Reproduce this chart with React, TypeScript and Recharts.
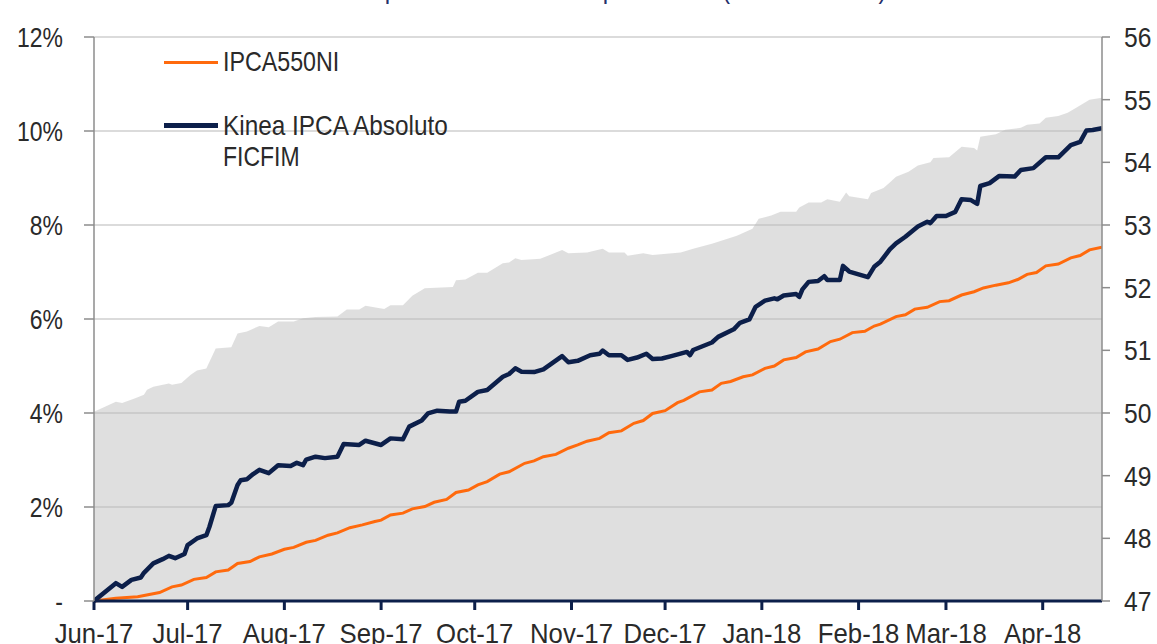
import React from "react";
import {
  ComposedChart,
  Line,
  Area,
  XAxis,
  YAxis,
  CartesianGrid,
  Legend,
} from "recharts";

const FONT = "'Liberation Sans', Arial, sans-serif";
const SX = 0.82; // horizontal squeeze to mimic a narrow face
const NAVY = "#0c1f4a";
const ORANGE = "#ff6a0d";
const TEXT = "#2a2a2a";

const titleText = "Desempenho acumulado e patrimônio (desde o início)";

const monthTicks = [
  "2017-06-01", "2017-07-01", "2017-08-01", "2017-09-01", "2017-10-01", "2017-11-01",
  "2017-12-01", "2018-01-01", "2018-02-01", "2018-03-01", "2018-04-01",
];
const monthLabels = [
  "Jun-17", "Jul-17", "Aug-17", "Sep-17", "Oct-17", "Nov-17",
  "Dec-17", "Jan-18", "Feb-18", "Mar-18", "Apr-18",
];
const startDate = "2017-06-01";
const endDate = "2018-04-20";

const leftTicks = [0, 2, 4, 6, 8, 10, 12];
const rightTicks = [47, 48, 49, 50, 51, 52, 53, 54, 55, 56];

const kineaName = "Kinea IPCA Absoluto FICFIM";
const kineaDates = [
  "2017-06-01", "2017-06-08", "2017-06-10", "2017-06-13", "2017-06-16", "2017-06-17", "2017-06-20",
  "2017-06-23", "2017-06-25", "2017-06-27", "2017-06-30", "2017-07-01", "2017-07-04", "2017-07-07",
  "2017-07-08", "2017-07-10", "2017-07-14", "2017-07-15", "2017-07-17", "2017-07-18", "2017-07-20",
  "2017-07-22", "2017-07-24", "2017-07-27", "2017-07-30", "2017-08-03", "2017-08-05", "2017-08-07",
  "2017-08-08", "2017-08-11", "2017-08-14", "2017-08-18", "2017-08-20", "2017-08-25", "2017-08-27",
  "2017-09-01", "2017-09-04", "2017-09-08", "2017-09-10", "2017-09-14", "2017-09-16", "2017-09-19",
  "2017-09-23", "2017-09-25", "2017-09-26", "2017-09-28", "2017-10-02", "2017-10-05", "2017-10-10",
  "2017-10-12", "2017-10-14", "2017-10-16", "2017-10-20", "2017-10-23", "2017-10-29", "2017-10-31",
  "2017-11-03", "2017-11-07", "2017-11-10", "2017-11-11", "2017-11-13", "2017-11-17", "2017-11-19",
  "2017-11-22", "2017-11-25", "2017-11-27", "2017-11-30", "2017-12-03", "2017-12-08", "2017-12-09",
  "2017-12-10", "2017-12-16", "2017-12-18", "2017-12-23", "2017-12-25", "2017-12-28", "2017-12-30",
  "2018-01-02", "2018-01-05", "2018-01-06", "2018-01-08", "2018-01-12", "2018-01-13", "2018-01-14",
  "2018-01-16", "2018-01-19", "2018-01-21", "2018-01-22", "2018-01-26", "2018-01-27", "2018-01-29",
  "2018-02-04", "2018-02-06", "2018-02-08", "2018-02-11", "2018-02-13", "2018-02-16", "2018-02-20",
  "2018-02-23", "2018-02-24", "2018-02-26", "2018-03-01", "2018-03-04", "2018-03-06", "2018-03-09",
  "2018-03-11", "2018-03-12", "2018-03-15", "2018-03-18", "2018-03-23", "2018-03-25", "2018-03-29",
  "2018-04-02", "2018-04-06", "2018-04-10", "2018-04-13", "2018-04-15", "2018-04-17", "2018-04-20",
];
const kineaValues = [
  0, 0.38, 0.30, 0.45, 0.50, 0.60, 0.80,
  0.89, 0.96, 0.91, 1.00, 1.19, 1.33, 1.40,
  1.58, 2.02, 2.04, 2.09, 2.47, 2.57, 2.59,
  2.70, 2.79, 2.72, 2.89, 2.87, 2.94, 2.89,
  3.01, 3.07, 3.04, 3.07, 3.34, 3.32, 3.41,
  3.32, 3.46, 3.44, 3.71, 3.84, 3.99, 4.05,
  4.03, 4.03, 4.24, 4.26, 4.45, 4.49, 4.77,
  4.83, 4.95, 4.88, 4.87, 4.93, 5.21, 5.08,
  5.11, 5.23, 5.26, 5.33, 5.23, 5.23, 5.13,
  5.18, 5.26, 5.15, 5.16, 5.21, 5.30, 5.23,
  5.34, 5.50, 5.62, 5.78, 5.92, 5.99, 6.26,
  6.39, 6.44, 6.42, 6.50, 6.53, 6.47, 6.63,
  6.79, 6.81, 6.91, 6.83, 6.83, 7.13, 7.01,
  6.89, 7.11, 7.22, 7.48, 7.61, 7.75, 7.97,
  8.07, 8.04, 8.19, 8.19, 8.28, 8.55, 8.53,
  8.45, 8.83, 8.89, 9.04, 9.03, 9.17, 9.21,
  9.44, 9.44, 9.70, 9.77, 10.01, 10.02, 10.06,
];

const ipcaName = "IPCA550NI";
const ipcaDates = [
  "2017-06-01", "2017-06-08", "2017-06-15", "2017-06-22", "2017-06-26", "2017-06-29", "2017-07-03",
  "2017-07-07", "2017-07-10", "2017-07-14", "2017-07-17", "2017-07-21", "2017-07-24", "2017-07-28",
  "2017-08-01", "2017-08-04", "2017-08-08", "2017-08-11", "2017-08-15", "2017-08-18", "2017-08-22",
  "2017-08-26", "2017-08-30", "2017-09-01", "2017-09-04", "2017-09-08", "2017-09-11", "2017-09-15",
  "2017-09-18", "2017-09-22", "2017-09-25", "2017-09-29", "2017-10-02", "2017-10-05", "2017-10-09",
  "2017-10-12", "2017-10-17", "2017-10-20", "2017-10-23", "2017-10-27", "2017-10-31", "2017-11-03",
  "2017-11-06", "2017-11-10", "2017-11-13", "2017-11-17", "2017-11-21", "2017-11-24", "2017-11-27",
  "2017-12-01", "2017-12-05", "2017-12-07", "2017-12-12", "2017-12-16", "2017-12-19", "2017-12-22",
  "2017-12-26", "2017-12-29", "2018-01-02", "2018-01-05", "2018-01-08", "2018-01-12", "2018-01-15",
  "2018-01-19", "2018-01-23", "2018-01-26", "2018-01-30", "2018-02-03", "2018-02-06", "2018-02-08",
  "2018-02-13", "2018-02-16", "2018-02-19", "2018-02-23", "2018-02-27", "2018-03-02", "2018-03-06",
  "2018-03-10", "2018-03-13", "2018-03-17", "2018-03-21", "2018-03-24", "2018-03-27", "2018-03-30",
  "2018-04-02", "2018-04-06", "2018-04-10", "2018-04-13", "2018-04-16", "2018-04-20",
];
const ipcaValues = [
  0, 0.06, 0.09, 0.18, 0.30, 0.34, 0.46,
  0.50, 0.62, 0.66, 0.80, 0.84, 0.94, 1.00,
  1.10, 1.14, 1.25, 1.29, 1.40, 1.45, 1.56,
  1.62, 1.69, 1.72, 1.83, 1.87, 1.96, 2.01,
  2.10, 2.16, 2.31, 2.36, 2.47, 2.54, 2.70,
  2.75, 2.93, 2.98, 3.07, 3.12, 3.25, 3.32,
  3.40, 3.46, 3.58, 3.62, 3.78, 3.84, 3.99,
  4.05, 4.22, 4.27, 4.45, 4.49, 4.63, 4.67,
  4.77, 4.81, 4.95, 5.00, 5.13, 5.18, 5.30,
  5.36, 5.52, 5.57, 5.71, 5.74, 5.85, 5.89,
  6.05, 6.09, 6.21, 6.25, 6.37, 6.39, 6.51,
  6.58, 6.66, 6.72, 6.77, 6.84, 6.95, 6.99,
  7.13, 7.17, 7.30, 7.35, 7.47, 7.53,
];

const cotaName = "Cota";
const cotaDates = [
  "2017-06-01", "2017-06-08", "2017-06-10", "2017-06-14", "2017-06-17", "2017-06-18", "2017-06-20",
  "2017-06-25", "2017-06-26", "2017-06-29", "2017-07-02", "2017-07-04", "2017-07-07", "2017-07-10",
  "2017-07-15", "2017-07-17", "2017-07-20", "2017-07-24", "2017-07-27", "2017-07-30", "2017-08-04",
  "2017-08-07", "2017-08-11", "2017-08-18", "2017-08-21", "2017-08-25", "2017-08-27", "2017-09-02",
  "2017-09-04", "2017-09-08", "2017-09-11", "2017-09-15", "2017-09-24", "2017-09-25", "2017-09-28",
  "2017-10-02", "2017-10-05", "2017-10-10", "2017-10-12", "2017-10-14", "2017-10-16", "2017-10-22",
  "2017-10-29", "2017-10-31", "2017-11-06", "2017-11-11", "2017-11-13", "2017-11-18", "2017-11-19",
  "2017-11-24", "2017-11-27", "2017-12-06", "2017-12-10", "2017-12-16", "2017-12-24", "2017-12-29",
  "2017-12-31", "2018-01-04", "2018-01-07", "2018-01-12", "2018-01-13", "2018-01-16", "2018-01-20",
  "2018-01-22", "2018-01-26", "2018-01-28", "2018-01-29", "2018-02-04", "2018-02-05", "2018-02-09",
  "2018-02-11", "2018-02-13", "2018-02-17", "2018-02-20", "2018-02-24", "2018-02-25", "2018-03-02",
  "2018-03-06", "2018-03-10", "2018-03-11", "2018-03-12", "2018-03-17", "2018-03-20", "2018-03-25",
  "2018-03-27", "2018-03-31", "2018-04-02", "2018-04-06", "2018-04-09", "2018-04-12", "2018-04-16",
  "2018-04-20",
];
const cotaValues = [
  50.02, 50.18, 50.16, 50.23, 50.29, 50.37, 50.42,
  50.47, 50.45, 50.48, 50.61, 50.68, 50.71, 51.03,
  51.05, 51.27, 51.30, 51.39, 51.37, 51.46, 51.46,
  51.51, 51.53, 51.54, 51.65, 51.65, 51.71, 51.66,
  51.72, 51.72, 51.87, 51.99, 52.01, 52.12, 52.13,
  52.24, 52.24, 52.39, 52.40, 52.47, 52.44, 52.46,
  52.60, 52.55, 52.56, 52.62, 52.56, 52.56, 52.51,
  52.55, 52.52, 52.56, 52.62, 52.70, 52.83, 52.94,
  53.10, 53.15, 53.21, 53.21, 53.28, 53.36, 53.36,
  53.41, 53.37, 53.52, 53.46, 53.41, 53.51, 53.59,
  53.68, 53.77, 53.85, 53.95, 54.00, 54.07, 54.08,
  54.25, 54.23, 54.19, 54.41, 54.45, 54.52, 54.55,
  54.60, 54.62, 54.71, 54.74, 54.79, 54.88, 55.00,
  55.03,
];

const toT = (s: string) => new Date(s + "T00:00:00Z").getTime();
const build = (dates: string[], values: number[]) =>
  dates.map((d, i) => ({ t: toT(d), v: values[i] }));

const kineaData = build(kineaDates, kineaValues);
const ipcaData = build(ipcaDates, ipcaValues);
const cotaData = build(cotaDates, cotaValues);
const xTicks = monthTicks.map(toT);
const monthFmt = (t: number) => {
  const i = xTicks.indexOf(t);
  return i >= 0 ? monthLabels[i] : "";
};
const pctFmt = (v: number) => (v === 0 ? "-" : `${v}%`);

const NarrowTick = (props: any) => {
  const { x, y, payload, anchor, fmt, dy, sx } = props;
  return (
    <g transform={`translate(${x},${y})`}>
      <text
        x={0}
        y={0}
        dy={dy}
        transform={`scale(${sx ?? SX},1)`}
        textAnchor={anchor}
        fill={TEXT}
        fontSize={28}
        fontFamily={FONT}
      >
        {fmt(payload.value)}
      </text>
    </g>
  );
};

const squeeze = (s: number): React.CSSProperties => ({
  transform: `scaleX(${s})`,
  transformOrigin: "0 0",
  whiteSpace: "nowrap",
  lineHeight: "31.5px",
});

const LegendBox = () => (
  <div style={{ position: "relative", width: 1157, height: 0, fontFamily: FONT, fontSize: 28, color: TEXT }}>
    <div style={{ position: "absolute", left: 164, top: 60.5, width: 54, height: 3, background: ORANGE }} />
    <div style={{ position: "absolute", left: 223, top: 46, ...squeeze(0.83) }}>{ipcaName}</div>
    <div style={{ position: "absolute", left: 164, top: 123, width: 54, height: 4.5, background: NAVY }} />
    <div style={{ position: "absolute", left: 223, top: 109.5, ...squeeze(0.87) }}>Kinea IPCA Absoluto</div>
    <div style={{ position: "absolute", left: 223, top: 141, ...squeeze(0.82) }}>FICFIM</div>
  </div>
);

export default function App() {
  return (
    <div style={{ position: "absolute", left: 0, top: 0, width: 1157, height: 644, overflow: "hidden", background: "#fff" }}>
      <div
        style={{
          position: "absolute",
          left: 93,
          width: 1009,
          top: -27,
          textAlign: "center",
          fontFamily: FONT,
          fontSize: 28,
          lineHeight: "31px",
          color: "#262f6b",
          whiteSpace: "nowrap",
          transform: "scaleX(0.86)",
          transformOrigin: "50% 0",
        }}
      >
        {titleText}
      </div>
      <ComposedChart
        width={1157}
        height={644}
        margin={{ top: 37, right: 0, bottom: 0, left: 14 }}
        style={{ position: "absolute", left: 0, top: 0 }}
      >
        <CartesianGrid yAxisId="left" vertical={false} stroke="#cfcfcf" strokeWidth={1.5} />
        <XAxis
          type="number"
          dataKey="t"
          domain={[toT(startDate), toT(endDate)]}
          ticks={xTicks}
          interval={0}
          allowDataOverflow
          height={43}
          axisLine={{ stroke: NAVY, strokeWidth: 3 }}
          tickLine={{ stroke: NAVY, strokeWidth: 3 }}
          tickSize={9}
          tickMargin={13}
          tick={<NarrowTick anchor="middle" fmt={monthFmt} dy={20} sx={0.92} />}
        />
        <YAxis
          yAxisId="left"
          domain={[0, 12]}
          ticks={leftTicks}
          interval={0}
          width={80}
          axisLine={{ stroke: "#8c8c8c", strokeWidth: 1.5 }}
          tickLine={{ stroke: "#8c8c8c", strokeWidth: 1.5 }}
          tickSize={10}
          tickMargin={21}
          tick={<NarrowTick anchor="end" fmt={pctFmt} dy={10} />}
        />
        <YAxis
          yAxisId="right"
          orientation="right"
          domain={[47, 56]}
          ticks={rightTicks}
          interval={0}
          width={55}
          axisLine={{ stroke: "#8c8c8c", strokeWidth: 1.5 }}
          tickLine={{ stroke: "#8c8c8c", strokeWidth: 1.5 }}
          tickSize={8}
          tickMargin={14}
          tick={<NarrowTick anchor="start" fmt={(v: number) => String(v)} dy={10} sx={0.88} />}
        />
        <Area
          yAxisId="right"
          data={cotaData}
          dataKey="v"
          name={cotaName}
          type="linear"
          stroke="none"
          fill="#bdbdbd"
          fillOpacity={0.48}
          isAnimationActive={false}
          legendType="none"
        />
        <Line
          yAxisId="left"
          data={ipcaData}
          dataKey="v"
          name={ipcaName}
          type="linear"
          stroke={ORANGE}
          strokeWidth={3}
          dot={false}
          isAnimationActive={false}
        />
        <Line
          yAxisId="left"
          data={kineaData}
          dataKey="v"
          name={kineaName}
          type="linear"
          stroke={NAVY}
          strokeWidth={4.5}
          strokeLinejoin="round"
          dot={false}
          isAnimationActive={false}
        />
        <Legend
          content={<LegendBox />}
          wrapperStyle={{ position: "absolute", left: 0, top: 0, width: 1157, height: 0 }}
        />
      </ComposedChart>
    </div>
  );
}
